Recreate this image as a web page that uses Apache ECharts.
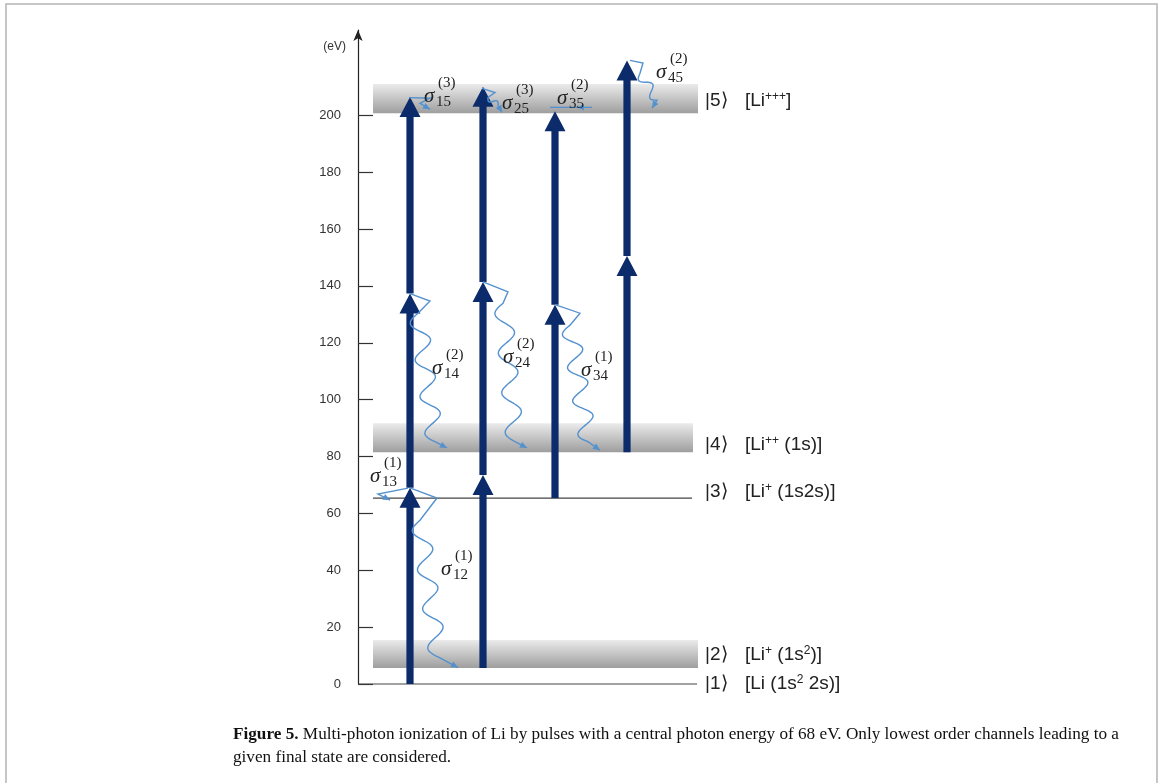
<!DOCTYPE html>
<html>
<head>
<meta charset="utf-8">
<title>Multi-photon ionization of Li</title>
<script src="https://cdn.jsdelivr.net/npm/echarts@6/dist/echarts.min.js"></script>
<style>
  html, body { margin: 0; padding: 0; background: #fff; }
  #chart { width: 1158px; height: 783px; }
</style>
</head>
<body>
<div id="chart"></div>
<script>
// Energy axis (eV)
const energyTicks = [0, 20, 40, 60, 80, 100, 120, 140, 160, 180, 200];
const energyMax = 230;

// Atomic / ionic levels: band edges in eV and horizontal extent in diagram units
const levelKets = ['|1⟩', '|2⟩', '|3⟩', '|4⟩', '|5⟩'];
const levelSpecies = [
  '{t|[Li (1s}{s|2}{t| 2s)]}',
  '{t|[Li}{s|+}{t| (1s}{s|2}{t|)]}',
  '{t|[Li}{s|+}{t| (1s2s)]}',
  '{t|[Li}{s|++}{t| (1s)]}',
  '{t|[Li}{s|+++}{t|]}'
];
const levelLower = [0, 5.6, 65.4, 81.5, 200.7];
const levelUpper = [0, 15.5, 65.4, 91.7, 211.0];
const levelLabelEnergy = [0, 10.2, 67.5, 84.0, 205.0];
const levelStart = [0, 15, 15, 15, 15];
const levelEnd = [339, 340, 334, 335, 340];
const ketX = 347;
const speciesX = 387;

// Photon ladders: column position and the energies each 68 eV photon connects
const columnX = [52, 125, 197, 269];
const photonLadders = [
  [0, 69, 137.3, 206.4],
  [5.6, 73.5, 141.4, 210],
  [65.4, 133.4, 201.4],
  [81.5, 150.5, 219.3]
];

// Photo-electron emission paths (x in diagram units, energy in eV)
const emissionPaths = [
  [[52, 69], [79, 65.4], [62, 57.6], [80, 9.5], [100, 5.8]],          // σ12
  [[50, 68.9], [20, 66.8], [32, 64.7]],                                 // σ13
  [[52, 137.3], [72, 134.7], [60, 130.4], [77, 85.2], [89, 83]],      // σ14
  [[125, 141.4], [150, 137.9], [145, 133.9], [157, 85.2], [169, 83]], // σ24
  [[197, 133.4], [222, 130.4], [212, 126.2], [230, 85.2], [242, 82.2]], // σ34
  [[51, 206.2], [72, 206.0], [62, 204.2], [72, 202.1]],                // σ15
  [[124, 209.5], [137, 208.0], [130, 206.3], [140, 203.5], [144, 201.0]], // σ25
  [[234, 202.8], [219, 202.8], [192, 202.8]],                           // σ35
  [[272, 219.3], [285, 218.4], [282, 214.8], [299, 205.3], [294, 202.5]]  // σ45
];
const emissionWaveSegment = [2, -1, 2, 2, 2, -1, 2, -1, 2];
const emissionHalfWaves = [7, 0, 7, 7, 7, 0, 2, 0, 3];
const emissionAmplitude = [9, 0, 9, 9, 9, 0, 3, 0, 5];
const emissionArrowAt = [4, 2, 4, 4, 4, 3, 4, 1, 4];

// Cross-section labels σ_ij^(n): order, indices and anchor (left edge of σ)
const sigmaOrder = ['(1)', '(1)', '(2)', '(2)', '(1)', '(3)', '(3)', '(2)', '(2)'];
const sigmaIndex = ['12', '13', '14', '24', '34', '15', '25', '35', '45'];
const sigmaX = [83, 12, 74, 145, 223, 66, 144, 199, 298];
const sigmaEnergy = [40.4, 73.1, 111.1, 115.0, 110.4, 206.7, 204.2, 206.0, 215.1];

const NAVY = '#0c2b6b';
const WAVE = '#5391cf';
const SANS = '"Liberation Sans", Arial, sans-serif';
const SERIF = '"Liberation Serif", "Times New Roman", serif';

const chart = echarts.init(document.getElementById('chart'), null, { renderer: 'canvas' });

function renderLevel(params, api) {
  const i = params.dataIndex;
  const tl = api.coord([levelStart[i], levelUpper[i]]);
  const br = api.coord([levelEnd[i], levelLower[i]]);
  const children = [];
  if (levelUpper[i] > levelLower[i]) {
    children.push({
      type: 'rect',
      shape: { x: tl[0], y: tl[1], width: br[0] - tl[0], height: br[1] - tl[1] },
      style: {
        fill: new echarts.graphic.LinearGradient(0, 0, 0, 1, [
          { offset: 0, color: '#ebebeb' },
          { offset: 1, color: '#9e9e9e' }
        ])
      }
    });
  } else {
    children.push({
      type: 'line',
      shape: { x1: tl[0], y1: tl[1], x2: br[0], y2: tl[1] },
      style: { stroke: '#444', lineWidth: 1.2 }
    });
  }
  const ky = api.coord([ketX, levelLabelEnergy[i]]);
  children.push({
    type: 'text', x: ky[0], y: ky[1],
    style: { text: levelKets[i], fill: '#222', fontFamily: SANS, fontSize: 19, verticalAlign: 'middle', align: 'left' }
  });
  const sy = api.coord([speciesX, levelLabelEnergy[i]]);
  children.push({
    type: 'text', x: sy[0], y: sy[1],
    style: {
      text: levelSpecies[i], verticalAlign: 'middle', align: 'left',
      rich: {
        t: { fill: '#222', fontFamily: SANS, fontSize: 19, lineHeight: 21 },
        s: { fill: '#222', fontFamily: SANS, fontSize: 12, lineHeight: 11, verticalAlign: 'top' }
      }
    }
  });
  return { type: 'group', children: children };
}

function renderPhoton(params, api) {
  const x = api.value(0);
  const p0 = api.coord([x, api.value(1)]);
  const p1 = api.coord([x, api.value(2)]);
  const sw = 3.6, hw = 10.5, hl = 20;
  const cx = p0[0];
  return {
    type: 'polygon',
    shape: {
      points: [
        [cx - sw, p0[1]], [cx - sw, p1[1] + hl], [cx - hw, p1[1] + hl], [cx, p1[1]],
        [cx + hw, p1[1] + hl], [cx + sw, p1[1] + hl], [cx + sw, p0[1]]
      ]
    },
    style: { fill: NAVY }
  };
}

function wavy(a, b, halfWaves, amp) {
  const dx = b[0] - a[0], dy = b[1] - a[1];
  const len = Math.hypot(dx, dy);
  const nx = -dy / len, ny = dx / len;
  const n = Math.max(2, Math.ceil(len / 1.5));
  const out = [];
  for (let k = 0; k <= n; k++) {
    const t = k / n;
    const off = amp * Math.sin(Math.PI * halfWaves * t);
    out.push([a[0] + dx * t + nx * off, a[1] + dy * t + ny * off]);
  }
  return out;
}

function renderEmission(params, api) {
  const i = params.dataIndex;
  const pts = emissionPaths[i].map(p => api.coord(p));
  const ws = emissionWaveSegment[i];
  const line = [pts[0]];
  for (let k = 1; k < pts.length; k++) {
    if (k - 1 === ws && emissionHalfWaves[i] > 0) {
      const w = wavy(pts[k - 1], pts[k], emissionHalfWaves[i], emissionAmplitude[i]);
      for (let j = 1; j < w.length; j++) line.push(w[j]);
    } else {
      line.push(pts[k]);
    }
  }
  const a = emissionArrowAt[i];
  const tip = pts[a], prev = pts[a - 1];
  const dx = tip[0] - prev[0], dy = tip[1] - prev[1];
  const len = Math.hypot(dx, dy) || 1;
  const ux = dx / len, uy = dy / len;
  const L = 7, W = 3.2;
  const head = [
    tip,
    [tip[0] - ux * L - uy * W, tip[1] - uy * L + ux * W],
    [tip[0] - ux * L + uy * W, tip[1] - uy * L - ux * W]
  ];
  return {
    type: 'group',
    children: [
      { type: 'polyline', shape: { points: line }, style: { stroke: WAVE, lineWidth: 1.4, fill: null } },
      { type: 'polygon', shape: { points: head }, style: { fill: WAVE } }
    ]
  };
}

function renderSigma(params, api) {
  const i = params.dataIndex;
  const p = api.coord([sigmaX[i], sigmaEnergy[i]]);
  return {
    type: 'group',
    children: [
      { type: 'text', x: p[0], y: p[1],
        style: { text: 'σ', fill: '#222', fontFamily: SERIF, fontStyle: 'italic', fontSize: 21, verticalAlign: 'middle', align: 'left' } },
      { type: 'text', x: p[0] + 14, y: p[1] - 13,
        style: { text: sigmaOrder[i], fill: '#222', fontFamily: SERIF, fontSize: 15, verticalAlign: 'middle', align: 'left' } },
      { type: 'text', x: p[0] + 12, y: p[1] + 6,
        style: { text: sigmaIndex[i], fill: '#222', fontFamily: SERIF, fontSize: 15, verticalAlign: 'middle', align: 'left' } }
    ]
  };
}

const photonSegments = [];
photonLadders.forEach((ladder, c) => {
  for (let k = 0; k < ladder.length - 1; k++) photonSegments.push([columnX[c], ladder[k], ladder[k + 1]]);
});

const option = {
  animation: false,
  grid: { left: 358, right: 0, top: 30, bottom: 99, outerBoundsMode: 'none' },
  xAxis: { type: 'value', min: 0, max: 800, show: false },
  yAxis: {
    type: 'value', min: 0, max: energyMax, interval: 10,
    name: '(eV)', nameLocation: 'end', nameGap: -17,
    nameTextStyle: { align: 'right', verticalAlign: 'middle', padding: [0, 12, 0, 0], color: '#333', fontFamily: SANS, fontSize: 12 },
    axisLine: { show: true, symbol: ['none', 'arrow'], symbolSize: [7, 11], lineStyle: { color: '#222', width: 1.2 } },
    axisTick: { show: true, inside: true, length: 15, customValues: energyTicks, lineStyle: { color: '#333', width: 1.2 } },
    axisLabel: { show: true, margin: 17, customValues: energyTicks, color: '#333', fontFamily: SANS, fontSize: 13 },
    splitLine: { show: false }
  },
  graphic: [
    { type: 'rect', shape: { x: 6, y: 4, width: 1151, height: 800 }, style: { fill: null, stroke: '#b4b4b4', lineWidth: 1.5 }, silent: true },
    { type: 'text', left: 233, top: 723,
      style: {
        text: '{b|Figure 5.} Multi-photon ionization of Li by pulses with a central photon energy of 68 eV. Only lowest order channels leading to a\ngiven final state are considered.',
        fontFamily: SERIF, fontSize: 17.2, lineHeight: 23, fill: '#111',
        rich: { b: { fontFamily: SERIF, fontSize: 17.2, fontWeight: 'bold', fill: '#111', lineHeight: 23 } }
      } }
  ],
  series: [
    { type: 'custom', name: 'levels', silent: true, clip: false, renderItem: renderLevel,
      data: levelLower.map((lo, i) => [levelStart[i], lo]) },
    { type: 'custom', name: 'photons', silent: true, clip: false, renderItem: renderPhoton,
      data: photonSegments, encode: { x: 0, y: [1, 2] } },
    { type: 'custom', name: 'emission', silent: true, clip: false, renderItem: renderEmission,
      data: emissionPaths.map(p => p[0]) },
    { type: 'custom', name: 'sigma', silent: true, clip: false, renderItem: renderSigma,
      data: sigmaX.map((x, i) => [x, sigmaEnergy[i]]) }
  ]
};

chart.setOption(option);
</script>
</body>
</html>
